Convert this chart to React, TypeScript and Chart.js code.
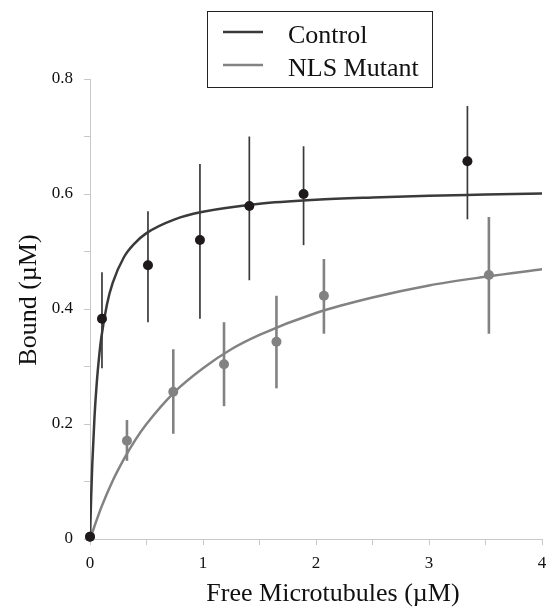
import { useEffect, useRef } from "react";
import { Chart, registerables } from "chart.js";

Chart.register(...registerables);

// Measured points (Free MT µM vs Bound µM)
const controlX = [0, 0.106, 0.513, 0.973, 1.41, 1.89, 3.34];
const controlY = [0.004, 0.383, 0.476, 0.52, 0.579, 0.6, 0.657];
const controlLow = [null, 0.297, 0.377, 0.383, 0.45, 0.511, 0.556];
const controlHigh = [null, 0.464, 0.57, 0.652, 0.7, 0.683, 0.753];

const mutantX = [0, 0.327, 0.737, 1.186, 1.65, 2.07, 3.53];
const mutantY = [0.004, 0.171, 0.256, 0.304, 0.343, 0.423, 0.459];
const mutantLow = [null, 0.136, 0.183, 0.231, 0.262, 0.357, 0.357];
const mutantHigh = [null, 0.207, 0.33, 0.377, 0.423, 0.487, 0.56];

// Fitted curves
const controlFitX = [0, 0.01, 0.02, 0.04, 0.06, 0.08, 0.1, 0.15, 0.2, 0.3, 0.4, 0.5, 0.75, 1, 1.5, 2, 2.5, 3, 3.5, 4];
const controlFitY = [0, 0.072, 0.129, 0.213, 0.272, 0.316, 0.35, 0.408, 0.445, 0.49, 0.515, 0.532, 0.556, 0.569, 0.583, 0.59, 0.594, 0.597, 0.599, 0.601];
const mutantFitX = [0, 0.1, 0.2, 0.3, 0.4, 0.5, 0.75, 1, 1.25, 1.5, 2, 2.5, 3, 3.5, 4];
const mutantFitY = [0, 0.055, 0.101, 0.139, 0.172, 0.2, 0.256, 0.297, 0.33, 0.355, 0.393, 0.42, 0.441, 0.456, 0.469];

const xTickLabels = ["0", "1", "2", "3", "4"];
const yTickLabels = ["0", "0.2", "0.4", "0.6", "0.8"];
const seriesNames = ["Control", "NLS Mutant"];
const xTitle = "Free Microtubules (\u00B5M)";
const yTitle = "Bound (\u00B5M)";

const FONT = "'Liberation Serif', 'Times New Roman', serif";
const DARK_LINE = "#3a3a3a";
const DARK_PT = "#1e1a1c";
const GRAY = "#828282";
const AXIS = "#c8c8c8";

const pts = (xs: number[], ys: number[]) => xs.map((x, i) => ({ x, y: ys[i] }));

export default function App() {
  const ref = useRef<HTMLCanvasElement | null>(null);

  useEffect(() => {
    document.body.style.margin = "0";
    const canvas = ref.current;
    if (!canvas) return;

    const errorBars = {
      id: "errorBars",
      beforeDatasetsDraw(chart: any) {
        const { ctx, scales } = chart;
        const draw = (xs: number[], lo: (number | null)[], hi: (number | null)[], color: string, w: number) => {
          ctx.save();
          ctx.strokeStyle = color;
          ctx.lineWidth = w;
          xs.forEach((x, i) => {
            const l = lo[i];
            const h = hi[i];
            if (l == null || h == null) return;
            const px = scales.x.getPixelForValue(x);
            ctx.beginPath();
            ctx.moveTo(px, scales.y.getPixelForValue(l));
            ctx.lineTo(px, scales.y.getPixelForValue(h));
            ctx.stroke();
          });
          ctx.restore();
        };
        draw(mutantX, mutantLow, mutantHigh, GRAY, 2.6);
        draw(controlX, controlLow, controlHigh, DARK_LINE, 1.7);
      },
    };

    const decorations = {
      id: "decorations",
      afterDraw(chart: any) {
        const { ctx } = chart;
        ctx.save();
        // axis titles
        ctx.fillStyle = "#111";
        ctx.font = `26px ${FONT}`;
        ctx.textAlign = "center";
        ctx.textBaseline = "alphabetic";
        ctx.fillText(xTitle, 333, 601);
        ctx.save();
        ctx.translate(36, 300);
        ctx.rotate(-Math.PI / 2);
        ctx.fillText(yTitle, 0, 0);
        ctx.restore();
        // legend
        ctx.fillStyle = "#fff";
        ctx.fillRect(207.5, 11.5, 225, 76);
        ctx.strokeStyle = "#222";
        ctx.lineWidth = 1;
        ctx.strokeRect(207.5, 11.5, 225, 76);
        ctx.lineWidth = 2.5;
        ctx.strokeStyle = DARK_LINE;
        ctx.beginPath();
        ctx.moveTo(223, 32);
        ctx.lineTo(263, 32);
        ctx.stroke();
        ctx.strokeStyle = GRAY;
        ctx.beginPath();
        ctx.moveTo(223, 65);
        ctx.lineTo(263, 65);
        ctx.stroke();
        ctx.fillStyle = "#111";
        ctx.textAlign = "left";
        ctx.fillText(seriesNames[0], 288, 43);
        ctx.fillText(seriesNames[1], 288, 76);
        ctx.restore();
      },
    };

    const chart = new Chart(canvas, {
      type: "scatter",
      data: {
        datasets: [
          {
            label: seriesNames[0],
            data: pts(controlX, controlY),
            showLine: false,
            pointRadius: 5,
            pointBackgroundColor: DARK_PT,
            pointBorderWidth: 0,
            borderColor: DARK_PT,
            clip: false,
          },
          {
            label: seriesNames[1],
            data: pts(mutantX, mutantY),
            showLine: false,
            pointRadius: 5,
            pointBackgroundColor: GRAY,
            pointBorderWidth: 0,
            borderColor: GRAY,
            clip: false,
          },
          {
            label: seriesNames[0] + " fit",
            data: pts(controlFitX, controlFitY),
            showLine: true,
            pointRadius: 0,
            borderColor: DARK_LINE,
            borderWidth: 2.5,
            cubicInterpolationMode: "monotone",
          },
          {
            label: seriesNames[1] + " fit",
            data: pts(mutantFitX, mutantFitY),
            showLine: true,
            pointRadius: 0,
            borderColor: GRAY,
            borderWidth: 2.5,
            cubicInterpolationMode: "monotone",
          },
        ],
      },
      options: {
        responsive: false,
        animation: false,
        events: [],
        layout: { padding: { top: 79, right: 6, left: 0, bottom: 0 } },
        plugins: { legend: { display: false }, tooltip: { enabled: false } },
        scales: {
          x: {
            type: "linear",
            min: 0,
            max: 4,
            afterFit: (s: any) => {
              s.height = 69;
              s.paddingLeft = 0;
              s.paddingRight = 6;
            },
            border: { display: true, color: AXIS, width: 1 },
            grid: { drawOnChartArea: false, drawTicks: true, tickLength: 6, color: AXIS },
            ticks: {
              stepSize: 0.5,
              padding: 8,
              maxRotation: 0,
              autoSkip: false,
              color: "#111",
              font: { family: FONT, size: 17 },
              callback: (_v: any, i: number) => (i % 2 === 0 ? xTickLabels[i / 2] : ""),
            },
          },
          y: {
            type: "linear",
            min: 0,
            max: 0.8,
            afterFit: (s: any) => {
              s.width = 90;
            },
            border: { display: true, color: AXIS, width: 1 },
            grid: { drawOnChartArea: false, drawTicks: true, tickLength: 6, color: AXIS },
            ticks: {
              stepSize: 0.1,
              padding: 11,
              autoSkip: false,
              color: "#111",
              font: { family: FONT, size: 17 },
              callback: (_v: any, i: number) => (i % 2 === 0 ? yTickLabels[i / 2] : ""),
            },
          },
        },
      },
      plugins: [errorBars, decorations],
    } as any);

    return () => chart.destroy();
  }, []);

  return <canvas ref={ref} width={548} height={608} style={{ display: "block" }} />;
}
